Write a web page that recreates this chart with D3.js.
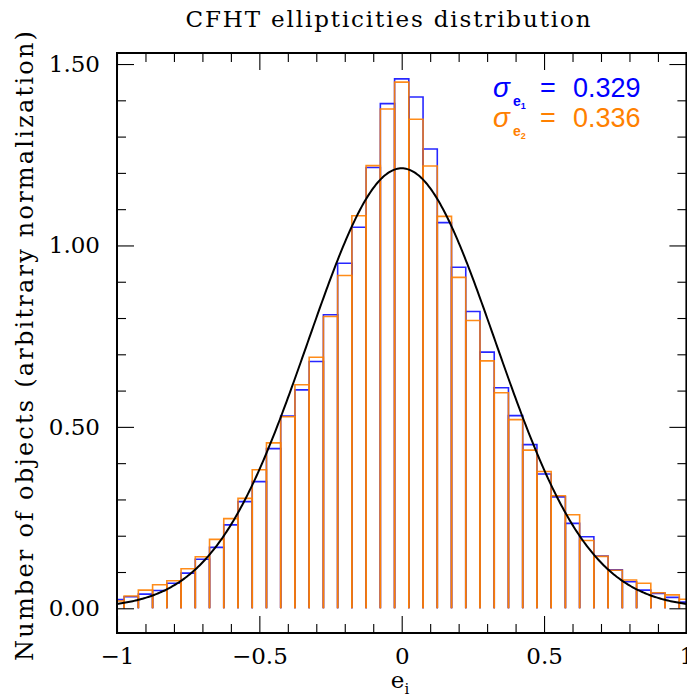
<!DOCTYPE html>
<html>
<head>
<meta charset="utf-8">
<script src="https://cdn.jsdelivr.net/npm/d3@7"></script>
<style>
  body { margin: 0; background: #fff; }
  text { fill: #000; }
</style>
</head>
<body>
<svg id="chart" width="687" height="699"></svg>
<script>
// Histogram bins (centres), width 0.05
const binCenters = [
  -1.00, -0.95, -0.90, -0.85, -0.80, -0.75, -0.70, -0.65, -0.60, -0.55,
  -0.50, -0.45, -0.40, -0.35, -0.30, -0.25, -0.20, -0.15, -0.10, -0.05,
   0.00,  0.05,  0.10,  0.15,  0.20,  0.25,  0.30,  0.35,  0.40,  0.45,
   0.50,  0.55,  0.60,  0.65,  0.70,  0.75,  0.80,  0.85,  0.90,  0.95,
   1.00
];
const binWidth = 0.05;

// Normalised counts of e1
const e1Heights = [
  0.024, 0.032, 0.039, 0.049, 0.069, 0.097, 0.135, 0.168, 0.230, 0.294,
  0.349, 0.440, 0.530, 0.602, 0.680, 0.809, 0.951, 1.050, 1.215, 1.391,
  1.459, 1.409, 1.266, 1.063, 0.940, 0.818, 0.706, 0.608, 0.531, 0.451,
  0.370, 0.307, 0.234, 0.197, 0.144, 0.106, 0.073, 0.050, 0.041, 0.030,
  0.017
];

// Normalised counts of e2
const e2Heights = [
  0.020, 0.034, 0.050, 0.065, 0.076, 0.109, 0.142, 0.190, 0.247, 0.303,
  0.382, 0.456, 0.528, 0.616, 0.692, 0.804, 0.917, 1.082, 1.220, 1.376,
  1.450, 1.348, 1.219, 1.080, 0.912, 0.793, 0.682, 0.594, 0.520, 0.436,
  0.377, 0.310, 0.258, 0.187, 0.143, 0.105, 0.078, 0.069, 0.043, 0.037,
  0.025
];

// Dispersions of the two components
const sigmaE1 = 0.329;
const sigmaE2 = 0.336;

// Axis ticks
const xMajorTicks = [-1, -0.5, 0, 0.5, 1];
const xTickLabels = ["\u22121", "\u22120.5", "0", "0.5", "1"];
const xMinorTicks = [-0.9, -0.8, -0.7, -0.6, -0.4, -0.3, -0.2, -0.1,
                      0.1,  0.2,  0.3,  0.4,  0.6,  0.7,  0.8,  0.9];
const yMajorTicks = [0, 0.5, 1.0, 1.5];
const yTickLabels = ["0.00", "0.50", "1.00", "1.50"];
const yMinorTicks = [0.1, 0.2, 0.3, 0.4, 0.6, 0.7, 0.8, 0.9,
                     1.1, 1.2, 1.3, 1.4];

const BLUE = "#0000ff";
const ORANGE = "#ff8000";
const SERIF = "'DejaVu Serif', serif";
const SANS = "'Liberation Sans', Arial, sans-serif";

const plot = { left: 117, right: 686.4, top: 53, bottom: 633 };

const x = d3.scaleLinear().domain([-1, 1]).range([plot.left, plot.right]);
const y = d3.scaleLinear().domain([-0.0681, 1.5304]).range([plot.bottom, plot.top]);

const svg = d3.select("#chart");

svg.append("defs").append("clipPath").attr("id", "plot-clip")
  .append("rect")
  .attr("x", plot.left).attr("y", plot.top)
  .attr("width", plot.right - plot.left).attr("height", plot.bottom - plot.top);

const body = svg.append("g").attr("clip-path", "url(#plot-clip)");

// Each bin drawn as an open bar outline rising from zero
function binPath(c, h) {
  const x0 = x(c - binWidth / 2), x1 = x(c + binWidth / 2);
  return `M${x0},${y(0)}V${y(h)}H${x1}V${y(0)}`;
}

function drawHistogram(heights, colour, opacity, cls) {
  body.append("g").attr("class", cls)
    .selectAll("path")
    .data(binCenters.map((c, i) => ({ c, h: heights[i] })))
    .join("path")
    .attr("d", d => binPath(d.c, d.h))
    .attr("fill", "none")
    .attr("stroke", colour)
    .attr("stroke-opacity", opacity)
    .attr("stroke-width", 1.6);
}

drawHistogram(e1Heights, BLUE, 0.85, "hist-e1");
drawHistogram(e2Heights, ORANGE, 0.9, "hist-e2");

// Normal density with the e1 dispersion
const gaussX = d3.range(-1.02, 1.0201, 0.005);
const gauss = v => Math.exp(-v * v / (2 * sigmaE1 * sigmaE1)) / (sigmaE1 * Math.sqrt(2 * Math.PI));
body.append("path")
  .datum(gaussX)
  .attr("fill", "none")
  .attr("stroke", "#000")
  .attr("stroke-width", 2)
  .attr("d", d3.line().x(v => x(v)).y(v => y(gauss(v))));

// Axes: major/minor ticks on all four sides, pointing inward
const MAJ = 17, MIN = 9;
function styleAxis(g) {
  g.select(".domain").remove();
  g.selectAll(".tick line").attr("stroke", "#000").attr("stroke-width", 1.1);
}

svg.append("g").attr("transform", `translate(0,${plot.bottom})`)
  .call(d3.axisBottom(x).tickValues(xMajorTicks).tickSize(-MAJ).tickPadding(15)
        .tickFormat((d, i) => xTickLabels[i]))
  .call(styleAxis)
  .call(g => g.selectAll("text").attr("font-family", SERIF).attr("font-size", 23).attr("fill", "#000"));
svg.append("g").attr("transform", `translate(0,${plot.bottom})`)
  .call(d3.axisBottom(x).tickValues(xMinorTicks).tickSize(-MIN).tickFormat(""))
  .call(styleAxis);
svg.append("g").attr("transform", `translate(0,${plot.top})`)
  .call(d3.axisTop(x).tickValues(xMajorTicks).tickSize(-MAJ).tickFormat(""))
  .call(styleAxis);
svg.append("g").attr("transform", `translate(0,${plot.top})`)
  .call(d3.axisTop(x).tickValues(xMinorTicks).tickSize(-MIN).tickFormat(""))
  .call(styleAxis);

svg.append("g").attr("transform", `translate(${plot.left},0)`)
  .call(d3.axisLeft(y).tickValues(yMajorTicks).tickSize(-MAJ).tickPadding(17)
        .tickFormat((d, i) => yTickLabels[i]))
  .call(styleAxis)
  .call(g => g.selectAll("text").attr("font-family", SERIF).attr("font-size", 23).attr("fill", "#000"));
svg.append("g").attr("transform", `translate(${plot.left},0)`)
  .call(d3.axisLeft(y).tickValues(yMinorTicks).tickSize(-MIN).tickFormat(""))
  .call(styleAxis);
svg.append("g").attr("transform", `translate(${plot.right},0)`)
  .call(d3.axisRight(y).tickValues(yMajorTicks).tickSize(-MAJ).tickFormat(""))
  .call(styleAxis);
svg.append("g").attr("transform", `translate(${plot.right},0)`)
  .call(d3.axisRight(y).tickValues(yMinorTicks).tickSize(-MIN).tickFormat(""))
  .call(styleAxis);

// Frame
svg.append("rect")
  .attr("x", plot.left).attr("y", plot.top)
  .attr("width", plot.right - plot.left).attr("height", plot.bottom - plot.top)
  .attr("fill", "none").attr("stroke", "#000").attr("stroke-width", 2);

// Title
svg.append("text")
  .attr("x", 388).attr("y", 27)
  .attr("text-anchor", "middle")
  .attr("font-family", SERIF).attr("font-size", 23)
  .attr("textLength", 405).attr("lengthAdjust", "spacing")
  .text("CFHT ellipticities distribution");

// Axis titles
const xTitle = svg.append("text")
  .attr("x", 400).attr("y", 688)
  .attr("text-anchor", "middle")
  .attr("font-family", SERIF).attr("font-size", 23);
xTitle.append("tspan").text("e");
xTitle.append("tspan").attr("dy", 6).attr("font-size", 15).text("i");

svg.append("text")
  .attr("transform", "translate(33,346) rotate(-90)")
  .attr("text-anchor", "middle")
  .attr("font-family", SERIF).attr("font-size", 24)
  .attr("textLength", 630).attr("lengthAdjust", "spacing")
  .text("Number of objects (arbitrary normalization)");

// Dispersion labels
function sigmaLabel(yBase, idx, value, colour) {
  const t = svg.append("text").attr("x", 493).attr("y", yBase)
    .attr("font-family", SANS).attr("fill", colour).style("fill", colour);
  t.append("tspan").attr("font-size", 28).attr("font-style", "italic").text("\u03c3");
  t.append("tspan").attr("dy", 9).attr("dx", 3).attr("font-size", 14).attr("font-weight", "bold").text("e");
  t.append("tspan").attr("dy", 3).attr("font-size", 9).attr("font-weight", "bold").text(idx);
  t.append("tspan").attr("x", 540).attr("y", yBase).attr("font-size", 27).text("=");
  t.append("tspan").attr("x", 573).attr("y", yBase).attr("font-size", 27).text(value.toFixed(3));
}
sigmaLabel(97, "1", sigmaE1, BLUE);
sigmaLabel(127, "2", sigmaE2, ORANGE);
</script>
</body>
</html>
